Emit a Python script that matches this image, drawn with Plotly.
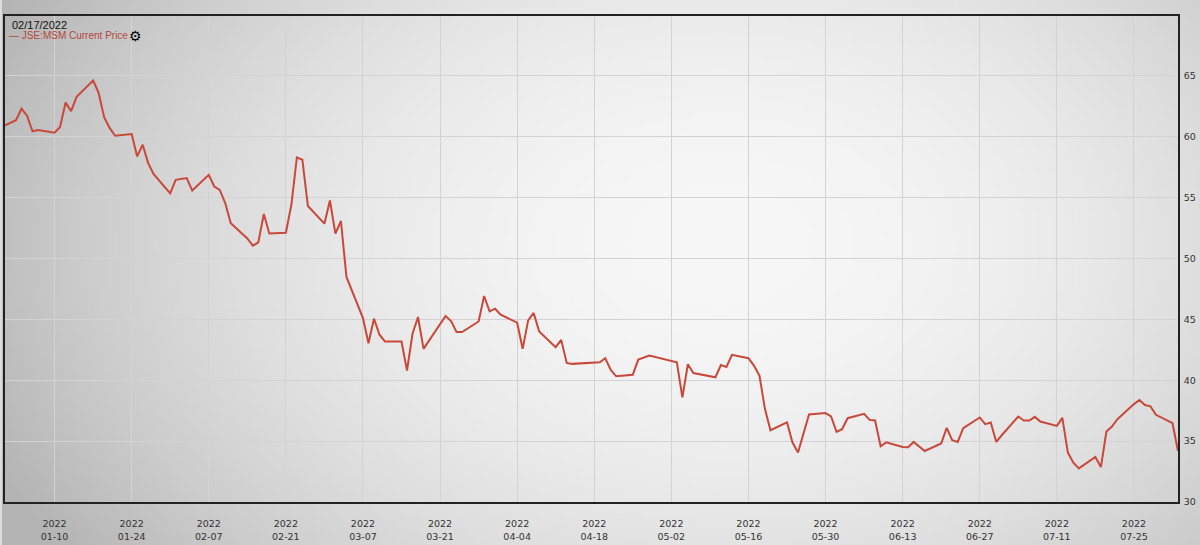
import base64
import struct
import zlib

import numpy as np
import plotly.graph_objects as go

# Values (JSE:MSM, 2022)
dates = [
    "2022-01-01", "2022-01-03", "2022-01-04", "2022-01-05", "2022-01-06", "2022-01-07",
    "2022-01-10", "2022-01-11", "2022-01-12", "2022-01-13", "2022-01-14",
    "2022-01-17", "2022-01-18", "2022-01-19", "2022-01-20", "2022-01-21",
    "2022-01-24", "2022-01-25", "2022-01-26", "2022-01-27", "2022-01-28",
    "2022-01-31", "2022-02-01", "2022-02-03", "2022-02-04",
    "2022-02-07", "2022-02-08", "2022-02-09", "2022-02-10", "2022-02-11",
    "2022-02-14", "2022-02-15", "2022-02-16", "2022-02-17", "2022-02-18",
    "2022-02-21", "2022-02-22", "2022-02-23", "2022-02-24", "2022-02-25",
    "2022-02-28", "2022-03-01", "2022-03-02", "2022-03-03", "2022-03-04",
    "2022-03-07", "2022-03-08", "2022-03-09", "2022-03-10", "2022-03-11",
    "2022-03-14", "2022-03-15", "2022-03-16", "2022-03-17", "2022-03-18",
    "2022-03-22", "2022-03-23", "2022-03-24", "2022-03-25",
    "2022-03-28", "2022-03-29", "2022-03-30", "2022-03-31", "2022-04-01",
    "2022-04-04", "2022-04-05", "2022-04-06", "2022-04-07", "2022-04-08",
    "2022-04-11", "2022-04-12", "2022-04-13", "2022-04-14",
    "2022-04-19", "2022-04-20", "2022-04-21", "2022-04-22",
    "2022-04-25", "2022-04-26", "2022-04-28",
    "2022-05-03", "2022-05-04", "2022-05-05", "2022-05-06",
    "2022-05-10", "2022-05-11", "2022-05-12", "2022-05-13",
    "2022-05-16", "2022-05-17", "2022-05-18", "2022-05-19", "2022-05-20",
    "2022-05-23", "2022-05-24", "2022-05-25", "2022-05-27",
    "2022-05-30", "2022-05-31", "2022-06-01", "2022-06-02", "2022-06-03",
    "2022-06-06", "2022-06-07", "2022-06-08", "2022-06-09", "2022-06-10",
    "2022-06-13", "2022-06-14", "2022-06-15", "2022-06-17",
    "2022-06-20", "2022-06-21", "2022-06-22", "2022-06-23", "2022-06-24",
    "2022-06-27", "2022-06-28", "2022-06-29", "2022-06-30", "2022-07-01",
    "2022-07-04", "2022-07-05", "2022-07-06", "2022-07-07", "2022-07-08",
    "2022-07-11", "2022-07-12", "2022-07-13", "2022-07-14", "2022-07-15",
    "2022-07-18", "2022-07-19", "2022-07-20", "2022-07-21", "2022-07-22",
    "2022-07-25", "2022-07-26", "2022-07-27", "2022-07-28", "2022-07-29",
    "2022-08-01", "2022-08-02",
]
prices = [
    60.93, 61.34, 62.30, 61.72, 60.44, 60.54,
    60.32, 60.79, 62.80, 62.09, 63.26,
    64.61, 63.59, 61.59, 60.71, 60.07,
    60.21, 58.37, 59.33, 57.82, 56.92,
    55.33, 56.45, 56.59, 55.57,
    56.86, 55.90, 55.62, 54.53, 52.88,
    51.64, 51.04, 51.31, 53.64, 52.05,
    52.11, 54.40, 58.29, 58.10, 54.30,
    52.85, 54.75, 52.03, 53.07, 48.48,
    45.10, 43.04, 45.05, 43.73, 43.18,
    43.18, 40.79, 43.81, 45.19, 42.57,
    45.27, 44.86, 43.95, 43.95,
    44.82, 46.91, 45.65, 45.87, 45.38,
    44.72, 42.57, 44.91, 45.52, 44.00,
    42.71, 43.31, 41.42, 41.34,
    41.47, 41.80, 40.84, 40.32,
    40.45, 41.69, 42.02,
    41.47, 38.59, 41.31, 40.59,
    40.24, 41.25, 41.09, 42.08,
    41.80, 41.20, 40.37, 37.63, 35.89,
    36.53, 34.88, 34.06, 37.19,
    37.30, 37.02, 35.76, 35.98, 36.88,
    37.24, 36.74, 36.69, 34.58, 34.90,
    34.52, 34.49, 34.93, 34.19,
    34.80, 36.09, 35.07, 34.93, 36.06,
    36.94, 36.39, 36.53, 34.93, 35.48,
    37.02, 36.69, 36.69, 36.99, 36.61,
    36.25, 36.91, 34.06, 33.23, 32.76,
    33.69, 32.87, 35.79, 36.20, 36.80,
    38.04, 38.37, 37.96, 37.85, 37.16,
    36.47, 34.19,
]

header_date = "02/17/2022"
series_name = "JSE:MSM Current Price"
line_color = "#c8483a"


def gradient_png(w, h):
    # soft grey vignette used as the page background
    yy, xx = np.mgrid[0:h, 0:w]
    dx = (xx / (w - 1) - 0.6) / 0.62
    dy = (yy / (h - 1) - 0.45) / 0.95
    v = np.clip(247 - 58 * (dx ** 2 + dy ** 2), 180, 250).astype(np.uint8)
    raw = b"".join(b"\x00" + row.tobytes() for row in v)

    def chunk(tag, data):
        return (struct.pack(">I", len(data)) + tag + data
                + struct.pack(">I", zlib.crc32(tag + data) & 0xffffffff))

    png = (b"\x89PNG\r\n\x1a\n"
           + chunk(b"IHDR", struct.pack(">IIBBBBB", w, h, 8, 0, 0, 0, 0))
           + chunk(b"IDAT", zlib.compress(raw))
           + chunk(b"IEND", b""))
    return "data:image/png;base64," + base64.b64encode(png).decode()


W, H = 1200, 545
ml, mr, mt, mb = 3, 22, 16, 43
pw, ph = W - ml - mr, H - mt - mb

fig = go.Figure()
fig.add_trace(go.Scatter(x=dates, y=prices, mode="lines", name=series_name,
                         line=dict(color=line_color, width=2), showlegend=False))

fig.add_layout_image(dict(
    source=gradient_png(240, 109), xref="paper", yref="paper",
    x=-ml / pw, y=1 + mt / ph, sizex=W / pw, sizey=H / ph,
    xanchor="left", yanchor="top", sizing="stretch", layer="below",
))

tickfont = dict(family="DejaVu Sans", size=9.5, color="#333333")
fig.update_layout(
    width=W, height=H,
    margin=dict(l=ml, r=mr, t=mt, b=mb, pad=0),
    paper_bgcolor="#dcdcdc",
    plot_bgcolor="rgba(0,0,0,0)",
    xaxis=dict(
        type="date", range=[dates[0], dates[-1]],
        tick0="2022-01-10", dtick=14 * 86400000, tickformat="%Y<br>%m-%d",
        showgrid=True, gridcolor="#d3d3d3", gridwidth=1,
        showline=True, linecolor="#222222", linewidth=1.5, mirror=True,
        ticks="outside", ticklen=12, tickcolor="rgba(0,0,0,0)",
        tickfont=tickfont, zeroline=False,
    ),
    yaxis=dict(
        side="right", range=[30, 69.9], tick0=30, dtick=5,
        showgrid=True, gridcolor="#d3d3d3", gridwidth=1,
        showline=True, linecolor="#222222", linewidth=1.5, mirror=True,
        ticks="outside", ticklen=2, tickcolor="rgba(0,0,0,0)",
        tickfont=tickfont, zeroline=False,
    ),
    annotations=[
        dict(text=header_date, xref="paper", yref="paper", x=0.004, y=0.997,
             xanchor="left", yanchor="top", showarrow=False,
             font=dict(family="Liberation Sans", size=11, color="#111111")),
        dict(text="— " + series_name, xref="paper", yref="paper", x=0.002, y=0.975,
             xanchor="left", yanchor="top", showarrow=False,
             font=dict(family="Liberation Sans", size=10, color="#b5473c")),
        dict(text="⚙", xref="paper", yref="paper", x=0.104, y=0.979,
             xanchor="left", yanchor="top", showarrow=False,
             font=dict(family="DejaVu Sans", size=14, color="#000000")),
    ],
)

# the page's default body margin would shift the whole chart by 8px
fig.write_html("out.html", config={"displayModeBar": False},
               post_script="document.body.style.margin = '0';")
